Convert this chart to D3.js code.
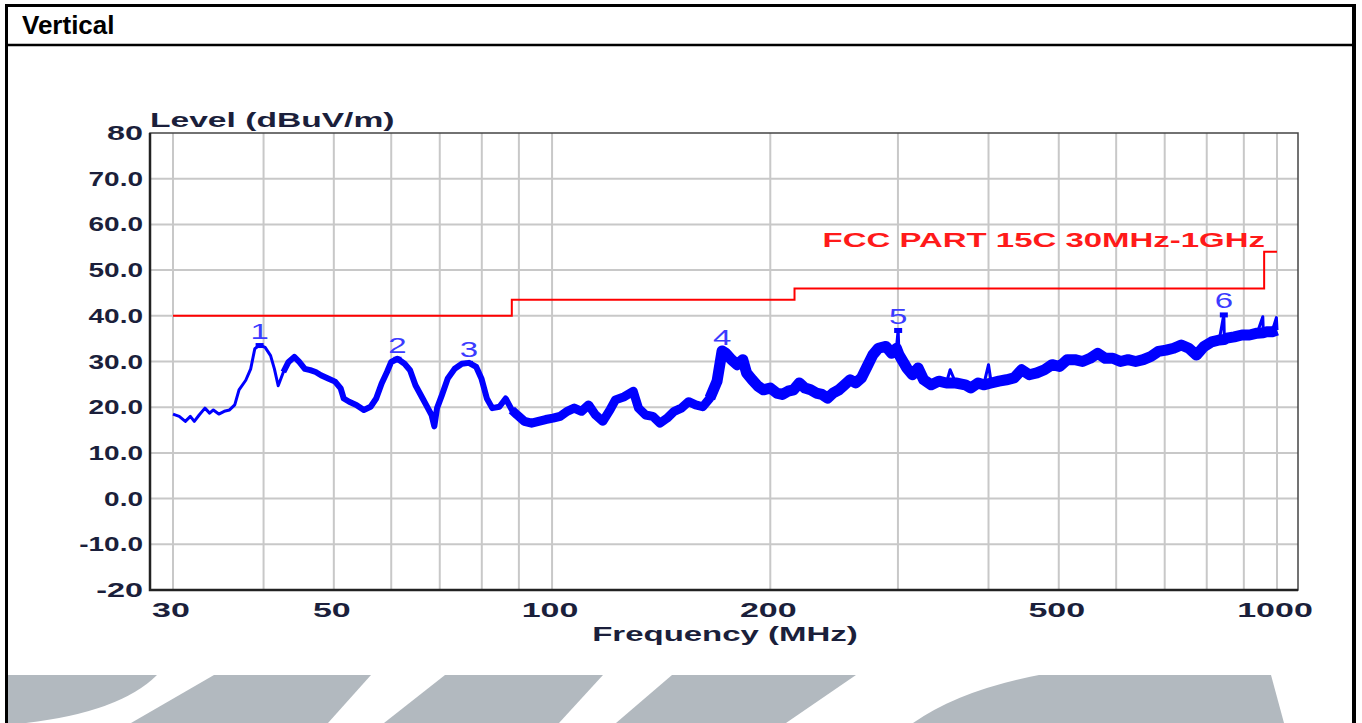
<!DOCTYPE html>
<html>
<head>
<meta charset="utf-8">
<script src="https://cdnjs.cloudflare.com/ajax/libs/d3/7.8.5/d3.min.js"></script>
<style>
  body { margin: 0; background: #fff; }
  svg { display: block; }
  .lbl { font-family: "Liberation Sans", Arial, sans-serif; font-weight: bold; fill: #1b1f3b; }
</style>
</head>
<body>
<div class="chart"></div>
<script>
var traceFreq = [30.0, 30.6, 31.2, 31.7, 32.1, 32.6, 33.2, 33.7, 34.1, 34.7, 35.3, 35.9, 36.5, 37.0, 37.8,
  38.4, 38.9, 39.5, 40.2, 40.9, 41.4, 41.9, 42.6, 43.3, 44.1, 44.8, 45.6, 46.4, 47.2, 48.0, 49.1,
  50.2, 51.1, 51.6, 52.5, 53.7, 55.0, 56.2, 57.2, 58.2, 59.2, 60.0, 61.2, 62.6, 63.7, 64.8, 66.3,
  67.4, 68.2, 68.8, 69.4, 70.5, 71.8, 73.4, 75.1, 76.8, 78.6, 79.9, 81.3, 82.7, 84.6, 86.3, 88.0,
  89.5, 91.6, 93.7, 95.8, 98.0, 100.3, 102.6, 104.9, 107.3, 109.8, 112.3, 114.8, 117.5, 120.2,
  122.3, 125.8, 129.4, 131.6, 134.6, 137.7, 140.9, 144.1, 147.4, 150.8, 154.3, 157.8, 161.4,
  165.1, 168.9, 171.6, 173.6, 176.8, 180.0, 183.3, 185.5, 188.8, 192.3, 195.7, 200.0, 204.1,
  207.8, 211.6, 215.4, 219.3, 223.3, 227.3, 231.4, 235.6, 239.9, 244.2, 248.7, 253.2, 257.7,
  262.4, 267.2, 272.0, 276.9, 281.9, 288.8, 294.0, 298.6, 300.2, 301.0, 303.0, 308.5, 314.1,
  319.8, 325.6, 333.5, 341.6, 349.9, 354.1, 360.5, 371.5, 378.1, 386.9, 393.9, 400.0, 403.5,
  413.4, 423.5, 433.8, 444.4, 455.3, 466.4, 477.8, 489.5, 501.4, 513.7, 526.2, 539.1, 552.3,
  565.8, 579.6, 593.7, 608.2, 623.1, 638.3, 653.9, 669.9, 686.2, 703.0, 720.2, 737.8, 755.8,
  774.3, 793.2, 812.6, 832.4, 844.6, 846.0, 852.4, 873.2, 894.6, 916.4, 938.8, 955.9, 957.5,
  967.6, 984.4, 998.0, 1000.0];
var traceLevel = [18.5, 18.0, 16.9, 18.0, 16.9, 18.3, 19.8, 18.7, 19.4, 18.5, 19.1, 19.4, 20.5, 23.8, 25.9,
  28.4, 32.8, 33.6, 33.1, 31.3, 28.4, 24.7, 27.7, 29.9, 31.0, 29.9, 28.4, 28.1, 27.7, 27.0, 26.3,
  25.6, 24.1, 21.9, 21.2, 20.5, 19.4, 20.1, 21.9, 25.2, 27.7, 29.9, 30.6, 29.5, 28.1, 24.8, 21.9,
  19.8, 18.3, 15.8, 19.8, 22.7, 26.3, 28.4, 29.5, 29.7, 28.8, 26.3, 21.9, 19.8, 20.1, 21.9, 19.4,
  18.3, 16.9, 16.5, 16.9, 17.3, 17.6, 18.0, 19.1, 19.8, 19.1, 20.5, 18.3, 16.9, 19.4,
  21.6, 22.3, 23.5, 19.8, 18.3, 18.0, 16.5, 17.6, 19.1, 19.8, 21.2, 20.5, 20.1,
  22.0, 25.7, 32.3, 31.8, 30.4, 29.3, 30.4, 27.5, 26.0, 24.6, 23.8, 24.2, 23.1,
  22.8, 23.5, 23.8, 25.3, 24.2, 23.8, 23.1, 22.8, 22.0, 23.1, 23.8, 24.9, 26.0,
  25.3, 26.4, 28.9, 31.4, 32.9, 33.3, 31.8, 32.9, 36.9, 31.5, 30.7, 28.6, 27.1,
  28.6, 26.0, 24.9, 25.7, 25.3, 28.2, 25.3, 24.9, 24.2, 25.3, 24.9, 29.3, 25.3,
  25.7, 26.0, 26.4, 28.2, 27.1, 27.5, 28.2, 29.3, 28.9, 30.4, 30.4, 30.0, 30.7,
  31.8, 30.7, 30.7, 30.0, 30.4, 30.0, 30.4, 31.1, 32.2, 32.5, 32.9, 33.6, 32.9,
  31.4, 33.3, 34.3, 34.7, 40.3, 34.8, 35.1, 35.4, 35.8, 35.8, 36.2, 39.8, 36.3,
  36.5, 36.5, 39.6, 36.9];

// FCC Part 15C class B limit
var limitFreq = [30, 88, 88, 216, 216, 960, 960, 1000];
var limitLevel = [40, 40, 43.5, 43.5, 46, 46, 54, 54];

// peak markers
var markerNames = ["1", "2", "3", "4", "5", "6"];
var markerFreq = [39.5, 61.2, 76.8, 171.6, 300.2, 844.6];
var markerLevel = [33.6, 30.6, 29.7, 32.3, 36.9, 40.3];

// axes
var yTicks = [80, 70, 60, 50, 40, 30, 20, 10, 0, -10, -20];
var yTickLabels = ["80", "70.0", "60.0", "50.0", "40.0", "30.0", "20.0", "10.0", "0.0", "-10.0", "-20"];
var xGrid = [30, 40, 50, 60, 70, 80, 90, 100, 200, 300, 400, 500, 600, 700, 800, 900, 1000];
var xTicks = [30, 50, 100, 200, 500, 1000];
var xTickLabels = ["30", "50", "100", "200", "500", "1000"];

var svgWidth = 1362;
var svgHeight = 723;

var margin = { top: 133, right: 64, bottom: 133, left: 150 };
var width = svgWidth - margin.left - margin.right;   // 1148
var height = svgHeight - margin.top - margin.bottom; // 457

var svg = d3.select(".chart")
  .append("svg")
  .attr("width", svgWidth)
  .attr("height", svgHeight);

// page frame + header
svg.append("line").attr("x1", 5).attr("x2", 1356).attr("y1", 5.5).attr("y2", 5.5)
  .attr("stroke", "#000").attr("stroke-width", 3);
svg.append("line").attr("x1", 6.5).attr("x2", 6.5).attr("y1", 4).attr("y2", svgHeight)
  .attr("stroke", "#000").attr("stroke-width", 3);
svg.append("line").attr("x1", 1354).attr("x2", 1354).attr("y1", 4).attr("y2", svgHeight)
  .attr("stroke", "#000").attr("stroke-width", 4);
svg.append("line").attr("x1", 6).attr("x2", 1354).attr("y1", 45).attr("y2", 45)
  .attr("stroke", "#000").attr("stroke-width", 2.5);
svg.append("text")
  .attr("x", 22).attr("y", 34)
  .style("font-family", "'Liberation Sans', Arial, sans-serif")
  .style("font-weight", "bold")
  .style("font-size", "26px")
  .text("Vertical");

// grey watermark bands at the bottom
var bandColor = "#b2b9bf";
var bands = [
  "M8,675 L157,675 Q120,712 26,723 L8,723 Z",
  "M214,675 L371,675 L328,723 L131,723 Z",
  "M445,675 L603,675 L559,723 L384,723 Z",
  "M672,675 L856,675 L786,723 L616,723 Z",
  "M1039,675 L1271,675 L1284,723 L913,723 Q960,690 1039,675 Z"
];
svg.selectAll(".band").data(bands).enter()
  .append("path").attr("class", "band")
  .attr("d", d => d)
  .attr("fill", bandColor);

var chartGroup = svg.append("g")
  .attr("transform", `translate(${margin.left}, ${margin.top})`);

var xLogScale = d3.scaleLog().domain([30, 1000]).range([23, 1127]);
var yLinearScale = d3.scaleLinear().domain([-20, 80]).range([height, 0]);

// stretched bold text, like the scanned plot
function wideText(g, x, y, txt, size, anchor, sx) {
  return g.append("text")
    .attr("class", "lbl")
    .attr("transform", `translate(${x},${y}) scale(${sx},1)`)
    .attr("text-anchor", anchor)
    .style("font-size", size + "px")
    .text(txt);
}

// grid
chartGroup.selectAll(".vgrid").data(xGrid).enter()
  .append("line").attr("class", "vgrid")
  .attr("x1", d => xLogScale(d)).attr("x2", d => xLogScale(d))
  .attr("y1", 0).attr("y2", height)
  .attr("stroke", "#c8c8c8").attr("stroke-width", 2);
chartGroup.selectAll(".hgrid").data(yTicks.slice(1, -1)).enter()
  .append("line").attr("class", "hgrid")
  .attr("x1", 0).attr("x2", width)
  .attr("y1", d => yLinearScale(d)).attr("y2", d => yLinearScale(d))
  .attr("stroke", "#c8c8c8").attr("stroke-width", 2);

// frame
chartGroup.append("rect")
  .attr("x", 0).attr("y", 0).attr("width", width).attr("height", height)
  .attr("fill", "none").attr("stroke", "#444").attr("stroke-width", 1.5);
chartGroup.append("path")
  .attr("d", `M0,0 V${height} H${width}`)
  .attr("fill", "none").attr("stroke", "#222").attr("stroke-width", 2.5);

// tick labels
yTicks.forEach(function(v, i) {
  var lab = yTickLabels[i];
  var sx = lab.indexOf(".") >= 0 ? 1.4 : 1.62;
  wideText(chartGroup, -7, yLinearScale(v) + 7, lab, 20, "end", sx);
});
xTicks.forEach(function(v, i) {
  wideText(chartGroup, xLogScale(v) - 2, height + 27, xTickLabels[i], 20, "middle", 1.7);
});
wideText(chartGroup, 0, -6, "Level (dBuV/m)", 21, "start", 1.6);
wideText(chartGroup, 575, height + 51, "Frequency (MHz)", 20, "middle", 1.65);

// limit line
var limitData = limitFreq.map((f, i) => [f, limitLevel[i]]);
chartGroup.append("path")
  .datum(limitData)
  .attr("d", d3.line().x(d => xLogScale(d[0])).y(d => yLinearScale(d[1])))
  .attr("fill", "none").attr("stroke", "#ff0000").attr("stroke-width", 2);
wideText(chartGroup, 1115, 114, "FCC PART 15C 30MHz-1GHz", 21, "end", 1.57)
  .style("fill", "#ff1a1a");

// trace: thin line for everything, then the noisy band (spikes left thin)
var traceData = traceFreq.map((f, i) => [f, traceLevel[i]]);
var traceLine = d3.line().x(d => xLogScale(d[0])).y(d => yLinearScale(d[1]));
var notSpike = function(d, i) {
  var prev = traceData[i - 1], next = traceData[i + 1];
  if (!prev || !next) return true;
  return d[1] - Math.max(prev[1], next[1]) < 2;
};
var bandData = traceData.filter(notSpike);

chartGroup.append("path")
  .datum(bandData.filter(d => d[0] >= 42 && d[0] <= 92))
  .attr("d", traceLine)
  .attr("fill", "none").attr("stroke", "#0000ff").attr("stroke-width", 6)
  .attr("stroke-linejoin", "round");
chartGroup.append("path")
  .datum(bandData.filter(d => d[0] >= 88 && d[0] <= 170))
  .attr("d", traceLine)
  .attr("fill", "none").attr("stroke", "#0000ff").attr("stroke-width", 9)
  .attr("stroke-linejoin", "round");
chartGroup.append("path")
  .datum(bandData.filter(d => d[0] >= 165))
  .attr("d", traceLine)
  .attr("fill", "none").attr("stroke", "#0000ff").attr("stroke-width", 11)
  .attr("stroke-linejoin", "round");
chartGroup.append("path")
  .datum(traceData)
  .attr("d", traceLine)
  .attr("fill", "none").attr("stroke", "#0000ff").attr("stroke-width", 3)
  .attr("stroke-linejoin", "round");

// markers
markerNames.forEach(function(m, i) {
  var mx = xLogScale(markerFreq[i]);
  var my = yLinearScale(markerLevel[i]);
  chartGroup.append("rect")
    .attr("x", mx - 4).attr("y", my - 2).attr("width", 8).attr("height", 5)
    .attr("fill", "#0000ff");
  chartGroup.append("text")
    .attr("transform", `translate(${mx},${my - 6}) scale(1.5,1)`)
    .attr("text-anchor", "middle")
    .style("font-family", "'Liberation Sans', Arial, sans-serif")
    .style("font-size", "22px")
    .style("fill", "#3b3bff")
    .text(m);
});
</script>
</body>
</html>
